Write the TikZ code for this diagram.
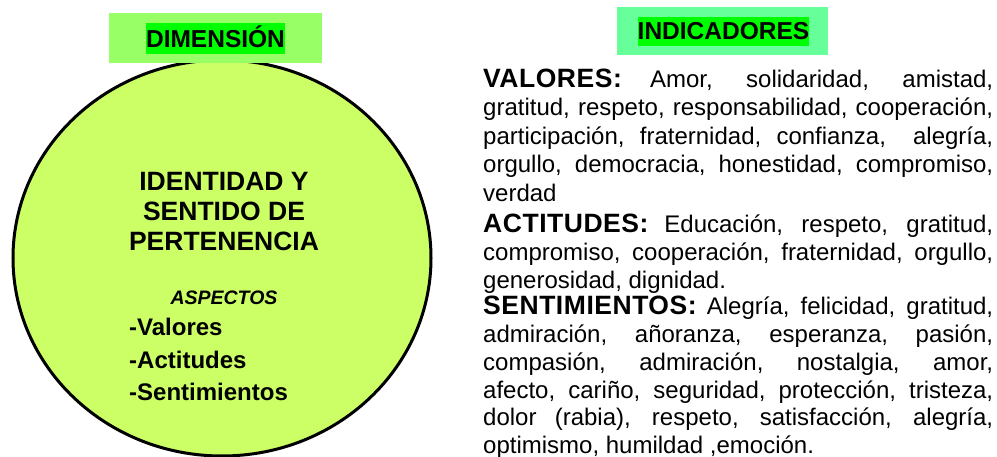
\documentclass[tikz,border=0pt]{standalone}
\usepackage{fontspec}
\setmainfont{Liberation Sans}
\usetikzlibrary{shapes.geometric}
\definecolor{circfill}{HTML}{CCFF66}
\definecolor{dimbg}{HTML}{99FF66}
\definecolor{indbg}{HTML}{66FF99}
\definecolor{hlgreen}{HTML}{00FF00}
\newcommand{\jline}[1]{\makebox[510pt][s]{#1}}
\newcommand{\hdword}[1]{{\fontsize{26.5}{30}\selectfont\bfseries\addfontfeature{LetterSpace=2}#1}}
\tikzset{
  bodyline/.style={anchor=base west, inner sep=0pt, font=\fontsize{24}{27.6}\selectfont},
  circtitle/.style={anchor=base, inner sep=0pt, font=\fontsize{26.5}{30}\selectfont\bfseries},
  listitem/.style={anchor=base west, inner sep=0pt, font=\fontsize{24}{28}\selectfont\bfseries},
  headtext/.style={anchor=base, inner sep=0pt, font=\fontsize{24.5}{28}\selectfont\bfseries},
  panel/.style={rectangle, inner sep=0pt, draw=none},
}
\begin{document}
\begin{tikzpicture}[x=1pt,y=-1pt]
\useasboundingbox (0,0) rectangle (997,457);
% circle
\node[ellipse, draw=black, line width=3pt, fill=circfill, inner sep=0pt, minimum width=418pt, minimum height=396pt] (circ) at (222,258) {};
% header boxes
\node[panel, fill=dimbg, minimum width=213pt, minimum height=50pt] (dimbox) at (215.5,38) {};
\node[panel, fill=hlgreen, minimum width=139pt, minimum height=31pt] (dimhl) at (215.5,38.5) {};
\node[headtext] (dim) at (215.5,47.5) {DIMENSIÓN};
\node[panel, fill=indbg, minimum width=211pt, minimum height=48pt] (indbox) at (722.5,31) {};
\node[panel, fill=hlgreen, minimum width=171pt, minimum height=29pt] (indhl) at (723.5,31.5) {};
\node[headtext] (ind) at (723.5,40) {INDICADORES};
% circle text
\node[circtitle] (t1) at (224,191) {IDENTIDAD Y};
\node[circtitle] (t2) at (224,221) {SENTIDO DE};
\node[circtitle] (t3) at (224,251) {PERTENENCIA};
\node[anchor=base, inner sep=0pt, font=\fontsize{19.5}{22}\selectfont\bfseries\itshape] (asp) at (224,305) {ASPECTOS};
\node[listitem] (l1) at (129,336) {-Valores};
\node[listitem] (l2) at (129,368) {-Actitudes};
\node[listitem] (l3) at (129,400) {-Sentimientos};
% indicators text
\node[bodyline] (v1) at (483,88) {\jline{\hdword{VALORES:} Amor, solidaridad, amistad,}};
\node[bodyline] (v2) at (483,116) {\jline{gratitud, respeto, responsabilidad, cooperación,}};
\node[bodyline] (v3) at (483,144.5) {\jline{participación, fraternidad, confianza,\ \ alegría,}};
\node[bodyline] (v4) at (483,173) {\jline{orgullo, democracia, honestidad, compromiso,}};
\node[bodyline] (v5) at (483,201.5) {verdad};
\node[bodyline] (a1) at (483,233) {\jline{\hdword{ACTITUDES:} Educación, respeto, gratitud,}};
\node[bodyline] (a2) at (483,261) {\jline{compromiso, cooperación, fraternidad, orgullo,}};
\node[bodyline] (a3) at (483,289) {generosidad, dignidad.};
\node[bodyline] (s1) at (483,315) {\jline{\hdword{SENTIMIENTOS:} Alegría, felicidad, gratitud,}};
\node[bodyline] (s2) at (483,343) {\jline{admiración, añoranza, esperanza, pasión,}};
\node[bodyline] (s3) at (483,370.5) {\jline{compasión, admiración, nostalgia, amor,}};
\node[bodyline] (s4) at (483,398) {\jline{afecto, cariño, seguridad, protección, tristeza,}};
\node[bodyline] (s5) at (483,425.5) {\jline{dolor (rabia), respeto, satisfacción, alegría,}};
\node[bodyline] (s6) at (483,453) {optimismo, humildad ,emoción.};
\end{tikzpicture}
\end{document}
